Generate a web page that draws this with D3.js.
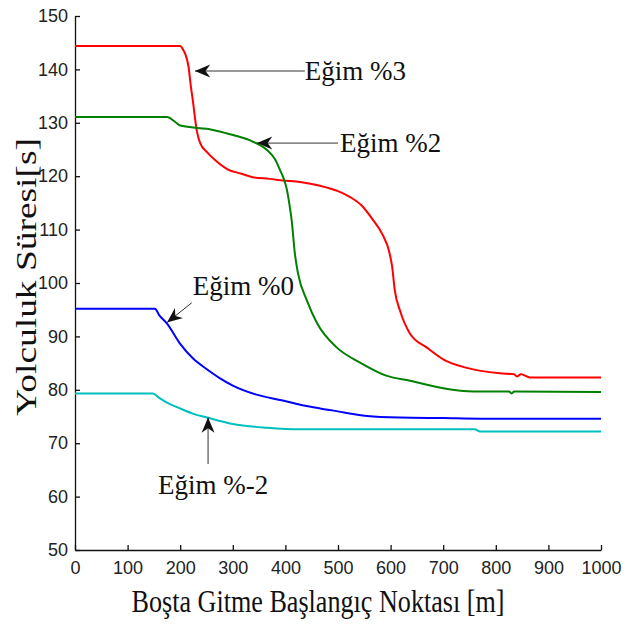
<!DOCTYPE html>
<html>
<head>
<meta charset="utf-8">
<script src="https://cdn.jsdelivr.net/npm/d3@7"></script>
<style>
  body { margin: 0; background: #fff; }
</style>
</head>
<body>
<div id="chart"></div>
<script>
// datos (x en metros, y en segundos)
var xEgim3 = [0, 200, 205, 210, 216, 220, 224, 228, 232, 238, 251, 269, 290, 315, 338, 370, 395, 428, 466, 500, 523, 545, 565, 585, 597, 603, 608, 618, 637, 669, 700, 745, 808, 835, 840, 848, 865, 1000];
var yEgim3 = [144.4, 144.4, 143.8, 142.8, 140.4, 137, 134.2, 131, 128.3, 126.2, 124.5, 122.8, 121.3, 120.5, 119.8, 119.5, 119.2, 118.9, 118.2, 117.2, 116.1, 114.5, 112, 109, 106, 103, 98.6, 94.8, 90.5, 87.9, 85.7, 84.1, 83.1, 82.9, 82.5, 82.9, 82.3, 82.3];

var xEgim2 = [0, 175, 190, 200, 238, 260, 289, 333, 350, 365, 380, 390, 397, 403, 408, 412, 418, 424, 441, 460, 498, 542, 593, 637, 700, 757, 825, 830, 835, 1000];
var yEgim2 = [131.1, 131.1, 130.2, 129.5, 129, 128.7, 128, 126.7, 125.9, 124.9, 123.2, 121.1, 119.5, 117.4, 114.5, 111.7, 105.5, 101.8, 96.7, 92.5, 87.9, 85.1, 82.6, 81.7, 80.3, 79.7, 79.7, 79.3, 79.7, 79.6];

var xEgim0 = [0, 152, 160, 175, 200, 225, 250, 275, 300, 345, 395, 428, 466, 491, 555, 618, 700, 770, 1000];
var yEgim0 = [95.2, 95.2, 94, 92.4, 88.6, 85.8, 83.9, 82.2, 80.8, 79.1, 78, 77.2, 76.5, 76.1, 75.1, 74.8, 74.7, 74.6, 74.6];

var xEgimM2 = [0, 148, 160, 175, 200, 225, 251, 300, 365, 428, 500, 600, 700, 760, 770, 1000];
var yEgimM2 = [79.3, 79.3, 78.5, 77.6, 76.5, 75.5, 74.8, 73.6, 72.9, 72.6, 72.6, 72.6, 72.6, 72.6, 72.2, 72.2];

var xTicks = [0, 100, 200, 300, 400, 500, 600, 700, 800, 900, 1000];
var yTicks = [50, 60, 70, 80, 90, 100, 110, 120, 130, 140, 150];

var series = [
  {name: "Eğim %3", xs: xEgim3, ys: yEgim3, color: "#ff0000"},
  {name: "Eğim %2", xs: xEgim2, ys: yEgim2, color: "#008000"},
  {name: "Eğim %0", xs: xEgim0, ys: yEgim0, color: "#0000ff"},
  {name: "Eğim %-2", xs: xEgimM2, ys: yEgimM2, color: "#00bfbf"}
];

// flechas de las etiquetas (coordenadas en unidades de datos)
var notas = [
  {text: "Eğim %3", tip: [228, 139.7], tail: [437, 139.7], at: [437, 138.0]},
  {text: "Eğim %2", tip: [346, 126.2], tail: [500, 126.2], at: [504, 124.5]},
  {text: "Eğim %0", tip: [175, 92.6], tail: [222, 96.3], at: [224, 97.7]},
  {text: "Eğim %-2", tip: [253, 74.8], tail: [253, 66.1], at: [158, 60.5]}
];

var serif = "'Liberation Serif', 'Times New Roman', Times, serif";
var narrow = "'Liberation Sans Narrow', 'Arial Narrow', 'Liberation Sans', Arial, sans-serif";

var margin = {top: 16, right: 26, bottom: 76, left: 75},
    w = 627 - margin.left - margin.right,
    h = 626 - margin.top - margin.bottom;

var x = d3.scaleLinear().domain([0, 1000]).range([0, w]);
var y = d3.scaleLinear().domain([50, 150]).range([h, 0]);

var svg = d3.select("#chart").append("svg")
  .attr("width", 627).attr("height", 626)
  .append("g")
  .attr("transform", "translate(" + margin.left + "," + margin.top + ")");

svg.append("defs").append("marker")
  .attr("id", "flecha")
  .attr("markerUnits", "userSpaceOnUse")
  .attr("markerWidth", 20).attr("markerHeight", 20)
  .attr("viewBox", "-15 -8 17 16")
  .attr("refX", 0).attr("refY", 0)
  .attr("orient", "auto")
  .append("path")
  .attr("d", "M0,0 L-13,-5.5 L-9,0 L-13,5.5 Z")
  .attr("fill", "#111");

// ejes con marcas hacia dentro
var xAxis = d3.axisBottom(x).tickValues(xTicks).tickFormat(d3.format("d"))
  .tickSizeInner(-5).tickSizeOuter(0).tickPadding(11);
var yAxis = d3.axisLeft(y).tickValues(yTicks).tickFormat(d3.format("d"))
  .tickSizeInner(-5).tickSizeOuter(0).tickPadding(7);

svg.append("g").attr("transform", "translate(0," + h + ")").call(xAxis);
svg.append("g").call(yAxis);
svg.selectAll(".domain, .tick line").attr("stroke", "#111").attr("stroke-width", 1.3);
svg.selectAll(".tick text")
  .style("font-family", narrow)
  .style("font-size", "18px")
  .attr("fill", "#222");

// lineas
var linea = d3.line()
  .x(function(d) { return x(d[0]); })
  .y(function(d) { return y(d[1]); })
  .curve(d3.curveMonotoneX);

series.forEach(function(s) {
  var pts = s.xs.map(function(v, i) { return [v, s.ys[i]]; });
  svg.append("path")
    .attr("d", linea(pts))
    .attr("fill", "none")
    .attr("stroke", s.color)
    .attr("stroke-width", 2);
});

// anotaciones
notas.forEach(function(n) {
  svg.append("line")
    .attr("x1", x(n.tail[0])).attr("y1", y(n.tail[1]))
    .attr("x2", x(n.tip[0])).attr("y2", y(n.tip[1]))
    .attr("stroke", "#333").attr("stroke-width", 1)
    .attr("marker-end", "url(#flecha)");
  svg.append("text")
    .attr("x", x(n.at[0])).attr("y", y(n.at[1]))
    .style("font-family", serif)
    .style("font-size", "27px")
    .attr("fill", "#111")
    .text(n.text);
});

// titulos de los ejes
svg.append("text")
  .attr("x", 318 - margin.left).attr("y", 612 - margin.top)
  .attr("text-anchor", "middle")
  .attr("textLength", 373).attr("lengthAdjust", "spacingAndGlyphs")
  .style("font-family", serif)
  .style("font-size", "32px")
  .attr("fill", "#111")
  .text("Boşta Gitme Başlangıç Noktası [m]");

svg.append("text")
  .attr("transform", "translate(" + (36 - margin.left) + "," + (277 - margin.top) + ") rotate(-90)")
  .attr("text-anchor", "middle")
  .attr("textLength", 278).attr("lengthAdjust", "spacingAndGlyphs")
  .style("font-family", serif)
  .style("font-size", "30px")
  .attr("fill", "#111")
  .text("Yolculuk Süresi[s]");
</script>
</body>
</html>
